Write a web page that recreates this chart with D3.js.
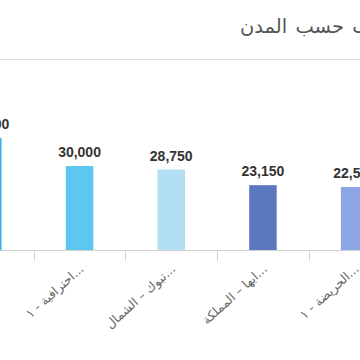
<!DOCTYPE html>
<html>
<head>
<meta charset="utf-8">
<script src="https://cdn.jsdelivr.net/npm/d3@7"></script>
<style>
html,body{margin:0;padding:0;background:#fff;}
svg{display:block;}
</style>
</head>
<body>
<svg id="chart" width="360" height="360"></svg>
<script>
const titleText = "الطلاب حسب المدن";
const categories = ["الرياض - ١...", "احترافية - ١...", "تبوك – الشمال...", "ابها – المملكة...", "الحريضة - ١..."];
const values = [40000, 30000, 28750, 23150, 22500];
const colors = ["#3fb3df", "#5cc8f2", "#b3dff3", "#5b78be", "#8ba5e6"];

const svg = d3.select("#chart");
const W = 360, H = 360;

// header
svg.append("line").attr("x1",0).attr("x2",W).attr("y1",59.5).attr("y2",59.5)
  .attr("stroke","#dcdcdc").attr("stroke-width",1);
svg.append("text").attr("x",240).attr("y",33)
  .attr("text-anchor","start")
  .attr("font-family","'DejaVu Sans', sans-serif")
  .attr("font-size",19.5).attr("fill","#555")
  .attr("word-spacing",2)
  .text(titleText);

// scales
const x = d3.scaleBand().domain(categories).range([-58, 400.5]).padding(0);
const y = d3.scaleLinear().domain([0, 40000]).range([250, 138]);
const barW = x.bandwidth() * 0.3;

// bars
svg.append("g").selectAll("rect").data(categories).join("rect")
  .attr("x", (d) => x(d) + x.bandwidth()/2 - barW/2)
  .attr("width", barW)
  .attr("y", (d,i) => y(values[i]))
  .attr("height", (d,i) => y(0) - y(values[i]))
  .attr("fill", (d,i) => colors[i]);

// value labels
svg.append("g").selectAll("text").data(categories).join("text")
  .attr("x", (d) => x(d) + x.bandwidth()/2)
  .attr("y", (d,i) => y(values[i]) - 9)
  .attr("text-anchor","middle")
  .attr("font-family","'Liberation Sans', Arial, sans-serif")
  .attr("font-weight","bold")
  .attr("font-size",14)
  .attr("fill","#333")
  .text((d,i) => d3.format(",")(values[i]));

// axis line
svg.append("line").attr("x1",0).attr("x2",W).attr("y1",250.5).attr("y2",250.5)
  .attr("stroke","#d0d0d0").attr("stroke-width",1);

// ticks at band boundaries
const bounds = categories.slice(1).map(d => x(d));
svg.append("g").selectAll("line").data(bounds).join("line")
  .attr("x1", d => Math.round(d)+0.5).attr("x2", d => Math.round(d)+0.5)
  .attr("y1", 250).attr("y2", 261)
  .attr("stroke","#d0d0d0").attr("stroke-width",1);

// category labels
svg.append("g").selectAll("text").data(categories).join("text")
  .attr("transform", d => `translate(${x(d)+x.bandwidth()/2+5},270) rotate(-42)`)
  .attr("text-anchor","end")
  .attr("font-family","'DejaVu Sans', sans-serif")
  .attr("font-size",12.5)
  .attr("fill","#666")
  .text(d => d);
</script>
</body>
</html>
